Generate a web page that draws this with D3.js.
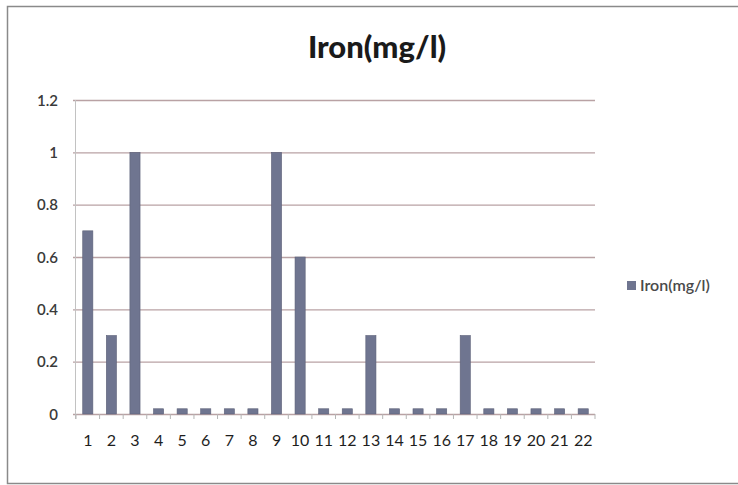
<!DOCTYPE html>
<html>
<head>
<meta charset="utf-8">
<script src="https://cdn.jsdelivr.net/npm/d3@7"></script>
<style>
  html, body { margin: 0; padding: 0; background: #fff; }
  svg { display: block; }
</style>
</head>
<body>
<svg id="chart" width="738" height="485"></svg>
<script>
// Iron concentration (mg/l) per sample site
const categories = ["1","2","3","4","5","6","7","8","9","10","11","12","13","14","15","16","17","18","19","20","21","22"];
const ironValues = [0.7,0.3,1,0.02,0.02,0.02,0.02,0.02,1,0.6,0.02,0.02,0.3,0.02,0.02,0.02,0.3,0.02,0.02,0.02,0.02,0.02];
const yTicks = [0, 0.2, 0.4, 0.6, 0.8, 1, 1.2];
const yTickLabels = ["0", "0.2", "0.4", "0.6", "0.8", "1", "1.2"];
const seriesName = "Iron(mg/l)";

const svg = d3.select("#chart");
const font = "Lato, 'Open Sans', sans-serif";

// chart frame
svg.append("path")
  .attr("d", "M738,483.5 H7.5 V6.5 H738")
  .attr("fill", "none")
  .attr("stroke", "#8a8a8a")
  .attr("stroke-width", 1.5);

const plot = { left: 76, right: 595, top: 100, bottom: 414 };

const x = d3.scaleBand()
  .domain(categories)
  .range([plot.left, plot.right])
  .paddingInner(0.57)
  .paddingOuter(0.285);

const y = d3.scaleLinear()
  .domain([0, 1.2])
  .range([plot.bottom, plot.top]);

// horizontal gridlines
svg.append("g")
  .selectAll("line")
  .data(yTicks)
  .join("line")
  .attr("x1", plot.left - 3)
  .attr("x2", plot.right)
  .attr("y1", d => y(d) + 0.5)
  .attr("y2", d => y(d) + 0.5)
  .attr("stroke", "#b9a2a4")
  .attr("stroke-width", 1.3);

// vertical axis line
svg.append("line")
  .attr("x1", plot.left - 0.5).attr("x2", plot.left - 0.5)
  .attr("y1", plot.top).attr("y2", plot.bottom + 5)
  .attr("stroke", "#c2c2c2");

// y-axis labels
const yAxis = d3.axisLeft(y)
  .tickValues(yTicks)
  .tickFormat((d, i) => yTickLabels[i])
  .tickSize(0)
  .tickPadding(18);
svg.append("g")
  .attr("transform", `translate(${plot.left},0.5)`)
  .call(yAxis)
  .call(g => g.select(".domain").remove())
  .selectAll("text")
  .attr("font-family", font)
  .attr("font-size", 15)
  .attr("font-weight", 600)
  .attr("fill", "#3a3a3a");

// bars
svg.append("g")
  .selectAll("rect")
  .data(ironValues)
  .join("rect")
  .attr("x", (d, i) => x(categories[i]))
  .attr("width", x.bandwidth())
  .attr("y", d => y(d))
  .attr("height", d => y(0) - y(d))
  .attr("fill", "#6f7590")
  .attr("stroke", "#5d6178")
  .attr("stroke-width", 0.6);

// x-axis tick marks between categories
const step = x.step();
const boundaries = d3.range(categories.length + 1).map(i => plot.left + i * step);
svg.append("g")
  .selectAll("line")
  .data(boundaries)
  .join("line")
  .attr("x1", d => d).attr("x2", d => d)
  .attr("y1", plot.bottom).attr("y2", plot.bottom + 5)
  .attr("stroke", "#b5b5b5");

// x-axis labels
const xAxis = d3.axisBottom(x).tickSize(0).tickPadding(21);
svg.append("g")
  .attr("transform", `translate(0,${plot.bottom})`)
  .call(xAxis)
  .call(g => g.select(".domain").remove())
  .selectAll("text")
  .attr("font-family", font)
  .attr("font-size", 16)
  .attr("fill", "#1e1e1e");

// title
svg.append("text")
  .attr("x", 377)
  .attr("y", 58)
  .attr("text-anchor", "middle")
  .attr("font-family", font)
  .attr("font-weight", 900)
  .attr("font-size", 31)
  .attr("fill", "#1a1a1a")
  .text(seriesName);

// legend
const legend = svg.append("g").attr("transform", "translate(627,286)");
legend.append("rect")
  .attr("x", 0).attr("y", -5)
  .attr("width", 9).attr("height", 9)
  .attr("fill", "#6f7590");
legend.append("text")
  .attr("x", 13).attr("y", 5)
  .attr("font-family", font)
  .attr("font-size", 16)
  .attr("font-weight", 600)
  .attr("fill", "#4a4a4a")
  .text(seriesName);
</script>
</body>
</html>
